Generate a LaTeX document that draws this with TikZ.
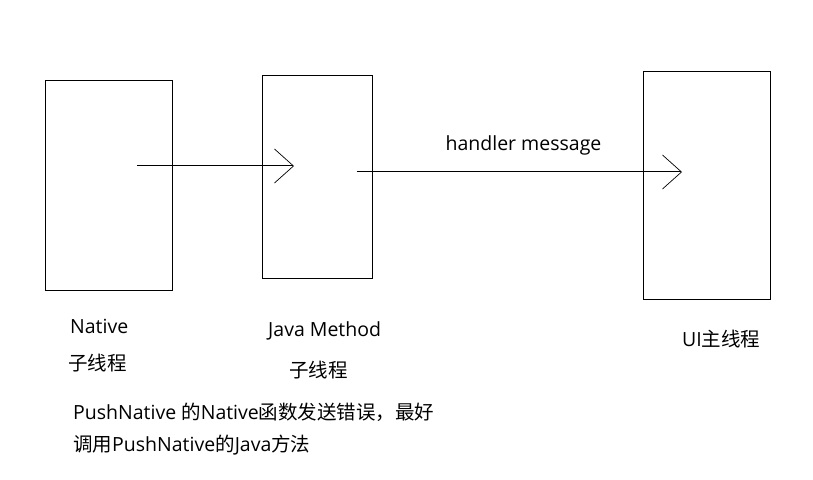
\documentclass[tikz,border=0pt]{standalone}
\usepackage{fontspec}
\setmainfont{Open Sans}
\newfontfamily\cjk{Noto Sans CJK SC}
\usetikzlibrary{arrows, arrows.meta}
\usetikzlibrary{positioning}
\tikzset{
  thread/.style={draw, line width=1pt, inner sep=0pt},
  label text/.style={font=\fontsize{19.5}{23}\selectfont, inner sep=0pt, anchor=west},
  call/.style={line width=1pt, -{Straight Barb[length=19pt,width=34pt,line width=0.7pt]}}
}
\begin{document}
\begin{tikzpicture}[x=1pt,y=1pt]
				\useasboundingbox (0,0) rectangle (813,479);
				% draw thread boxes
				\node[thread, minimum width=127, minimum height=210] (native) at (108.5,293) {};
				\node[thread, minimum width=110, minimum height=203] (java) at (317,301.5) {};
				\node[thread, minimum width=127, minimum height=228] (ui) at (706.5,293) {};
				% arrow ends
				\coordinate (native out) at (137,313);
				\coordinate (java in) at (294,313);
				\coordinate (java out) at (357,307);
				\coordinate (ui in) at (682,307);
				% add arrows
				\draw[call] (native out) -- (java in);
				\draw[call] (java out) -- (ui in);
				\node[font=\fontsize{19.5}{23}\selectfont, inner sep=0pt] (msg) at (523.5,334) {handler message};
				% labels
				\node[label text] (native name) at (70,153) {Native};
				\node[label text] (native thread) at (68,116) {\cjk 子线程};
				\node[label text] (java name) at (268,148) {Java Method};
				\node[label text] (java thread) at (289,109) {\cjk 子线程};
				\node[label text] (ui name) at (682,140) {UI{\cjk 主线程}};
				\node[label text] (note a) at (73,67) {PushNative {\cjk 的}Native{\cjk 函数发送错误，最好}};
				\node[label text] (note b) at (73,34) {{\cjk 调用}PushNative{\cjk 的}Java{\cjk 方法}};
			\end{tikzpicture}
\end{document}
